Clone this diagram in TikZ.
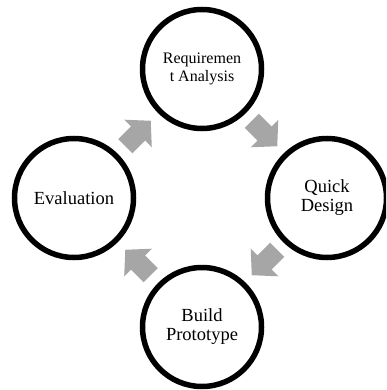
\documentclass[tikz,border=0pt]{standalone}
\usepackage{fontspec}
\setmainfont{Liberation Serif}
\usetikzlibrary{calc}
\definecolor{arrowgray}{RGB}{166,166,166}
\begin{document}
\begin{tikzpicture}[x=1pt,y=-1pt,
  stage/.style={circle, draw=black, line width=5.5pt, minimum size=119pt, inner sep=0pt, align=center, font=\fontsize{18.5}{19}\selectfont},
  blockarrow/.style={fill=arrowgray, draw=none}]
\useasboundingbox (0,0) rectangle (386,390);
\begin{scope}
\clip (0,0) rectangle (386,390);
\node[stage, font=\fontsize{16}{17.6}\selectfont] (req) at (202,69) {Requiremen\\t Analysis};
\node[stage] (qd) at (327,198) {Quick\\Design};
\node[stage] (bp) at (202,327) {Build\\Prototype};
\node[stage] (ev) at (74,198) {Evaluation};
\end{scope}
\fill[blockarrow, shift={($(req)!0.5!(qd)$)}, rotate=-45] (-18,-10) -- (0,-10) -- (0,-19.5) -- (18,0) -- (0,19.5) -- (0,10) -- (-18,10) -- cycle;
\fill[blockarrow, shift={($(qd)!0.5!(bp)$)}, rotate=-135] (-18,-10) -- (0,-10) -- (0,-19.5) -- (18,0) -- (0,19.5) -- (0,10) -- (-18,10) -- cycle;
\fill[blockarrow, shift={($(bp)!0.5!(ev)$)}, rotate=135] (-18,-10) -- (0,-10) -- (0,-19.5) -- (18,0) -- (0,19.5) -- (0,10) -- (-18,10) -- cycle;
\fill[blockarrow, shift={($(ev)!0.5!(req)$)}, rotate=45] (-18,-10) -- (0,-10) -- (0,-19.5) -- (18,0) -- (0,19.5) -- (0,10) -- (-18,10) -- cycle;
\end{tikzpicture}
\end{document}
